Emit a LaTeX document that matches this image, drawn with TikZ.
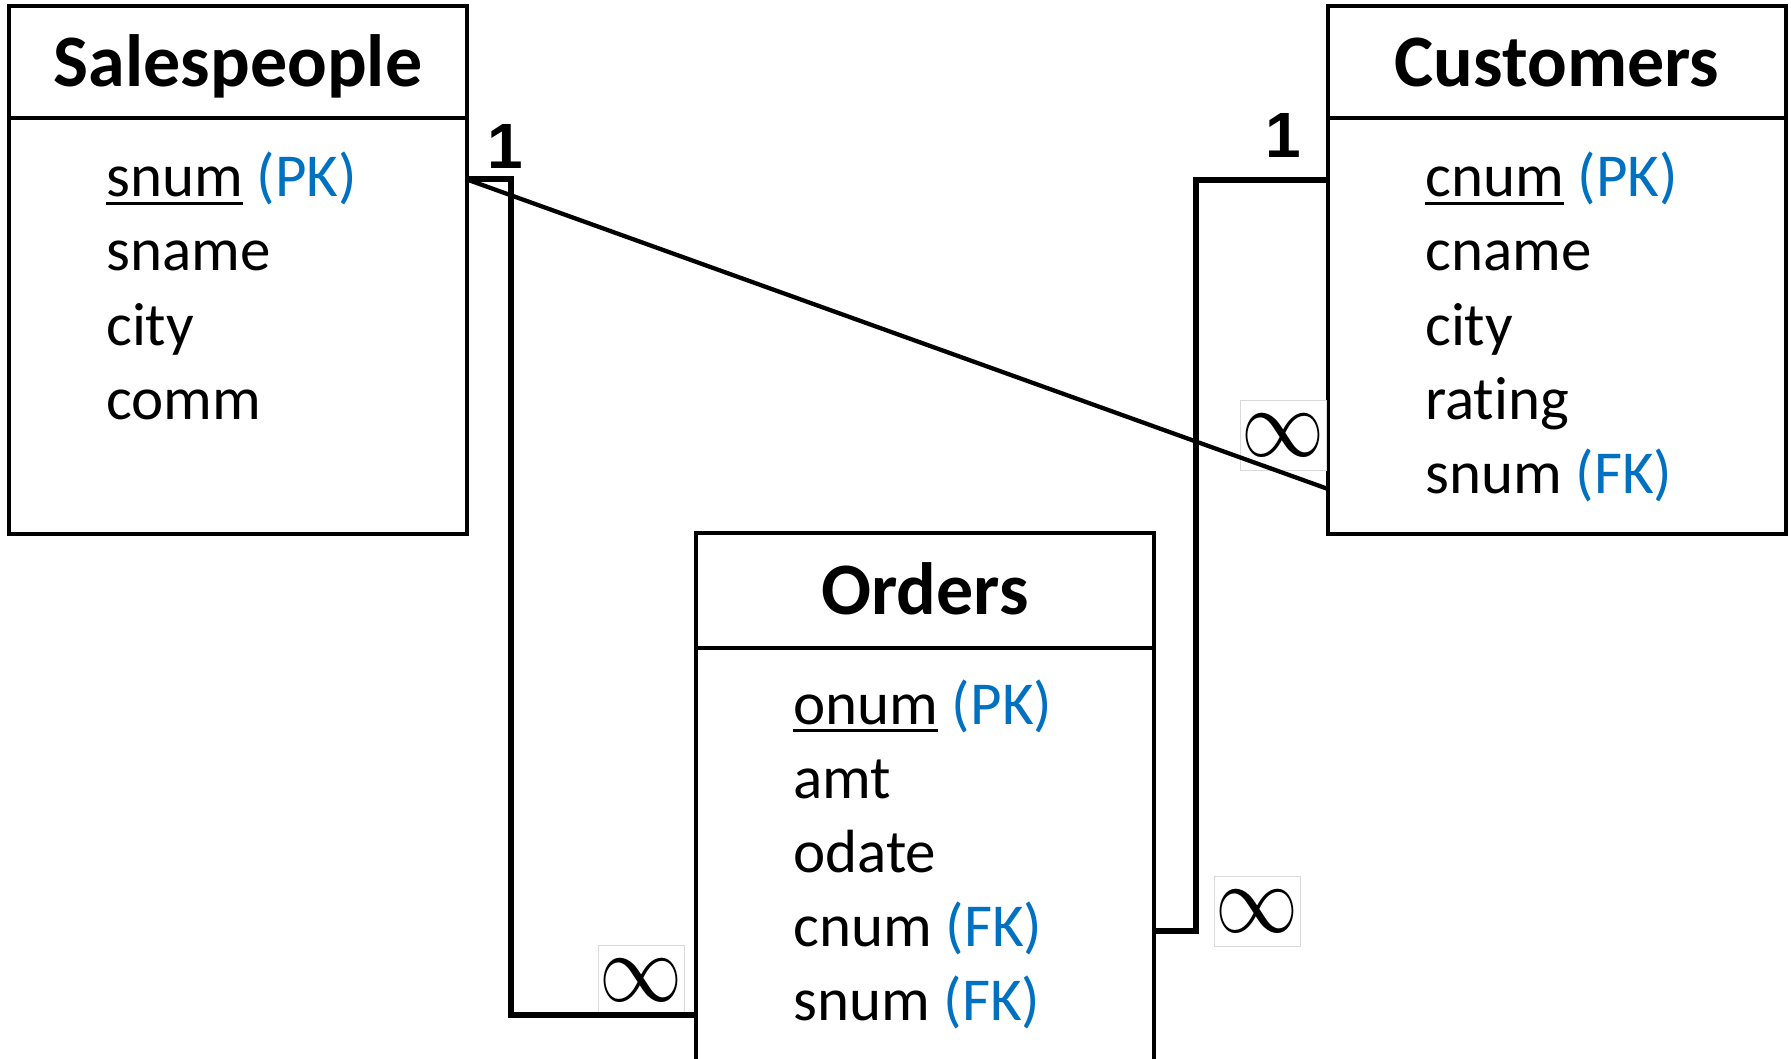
\documentclass[tikz,border=0pt]{standalone}
\usepackage{graphicx}
\usepackage{fontspec}
\setmainfont{Carlito}[Ligatures=NoCommon]
\newfontfamily\cardfont{Liberation Sans}
\usetikzlibrary{calc}
\definecolor{keyblue}{RGB}{0,112,192}
% primary-key field name, underlined with a rule of its own
\newcommand\keyname[1]{\setbox0\hbox{#1}\rlap{\rule[-8pt]{\wd0}{3.4pt}}#1}
% the "many" mark, drawn from the 10pt math symbol
\newcommand\manymark{\scalebox{8.3}[9.8]{$\infty$}}

\begin{document}
\begin{tikzpicture}[x=1pt,y=-1pt,
  tablebox/.style={draw, line width=3.8pt, rectangle, inner sep=0pt, outer sep=0pt,
    anchor=north west, minimum width=458pt},
  tabletitle/.style={font=\bfseries\fontsize{74}{80}\selectfont, anchor=base, inner sep=0pt},
  field/.style={font=\fontsize{61}{74}\selectfont, anchor=base west, inner sep=0pt},
  divider/.style={line width=3.8pt},
  link/.style={line width=6pt},
  diag/.style={line width=4.3pt},
  card/.style={font=\cardfont\bfseries\fontsize{64}{64}\selectfont, inner sep=0pt},
  many/.style={draw=black!15, line width=1pt, minimum width=86pt, minimum height=70pt,
    inner sep=0pt}
]
\useasboundingbox (0,0) rectangle (1791,1059);

% Salespeople table
\node[tablebox, minimum height=528pt] (sp) at (9,6) {};
\draw[divider] ($(sp.north west)+(0,112)$) -- ($(sp.north east)+(0,112)$);
\node[tabletitle] (sp-t) at ($(sp.north)+(0,81)$) {Salespeople};
\node[field] (sp-1) at ($(sp.north west)+(97,191)$) {\keyname{snum} \textcolor{keyblue}{(PK)}};
\node[field] (sp-2) at ($(sp.north west)+(97,265)$) {sname};
\node[field] (sp-3) at ($(sp.north west)+(97,339)$) {city};
\node[field] (sp-4) at ($(sp.north west)+(97,413)$) {comm};

% Customers table
\node[tablebox, minimum height=528pt] (cu) at (1328,6) {};
\draw[divider] ($(cu.north west)+(0,112)$) -- ($(cu.north east)+(0,112)$);
\node[tabletitle] (cu-t) at ($(cu.north)+(0,81)$) {Customers};
\node[field] (cu-1) at ($(cu.north west)+(97,191)$) {\keyname{cnum} \textcolor{keyblue}{(PK)}};
\node[field] (cu-2) at ($(cu.north west)+(97,265)$) {cname};
\node[field] (cu-3) at ($(cu.north west)+(97,339)$) {city};
\node[field] (cu-4) at ($(cu.north west)+(97,413)$) {rating};
\node[field] (cu-5) at ($(cu.north west)+(97,487)$) {snum \textcolor{keyblue}{(FK)}};

% Orders table
\node[tablebox, minimum height=560pt] (o) at (696,533) {};
\draw[divider] ($(o.north west)+(0,115)$) -- ($(o.north east)+(0,115)$);
\node[tabletitle] (o-t) at ($(o.north)+(0,81)$) {Orders};
\node[field] (o-1) at ($(o.north west)+(97,191)$) {\keyname{onum} \textcolor{keyblue}{(PK)}};
\node[field] (o-2) at ($(o.north west)+(97,265)$) {amt};
\node[field] (o-3) at ($(o.north west)+(97,339)$) {odate};
\node[field] (o-4) at ($(o.north west)+(97,413)$) {cnum \textcolor{keyblue}{(FK)}};
\node[field] (o-5) at ($(o.north west)+(97,487)$) {snum \textcolor{keyblue}{(FK)}};

% attachment heights of the relationship lines
\coordinate (sp-1c) at ([yshift=17.5pt]sp-1.base);
\coordinate (cu-1c) at ([yshift=17pt]cu-1.base);
\coordinate (cu-5c) at ([yshift=4pt]cu-5.base);
\coordinate (o-4c) at ([yshift=15.5pt]o-4.base);
\coordinate (o-5c) at ([yshift=5pt]o-5.base);

% cardinality marks
\node[card] (one-sp) at (505,146) {1};
\node[card] (one-cu) at (1283,135) {1};
\node[many] (many-cu) at (1283,435) {\manymark};
\node[many] (many-oc) at (1257,911) {\manymark};
\node[many] (many-os) at (641,980) {\manymark};

% relationships
\draw[link] (sp.east |- sp-1c) -- ++(43.6,0) |- (o.west |- o-5c);
\draw[diag] (sp.east |- sp-1c) -- (cu.west |- cu-5c);
\draw[link] (cu.west |- cu-1c) -- ++(-132.5,0) |- (o.east |- o-4c);
\end{tikzpicture}
\end{document}
